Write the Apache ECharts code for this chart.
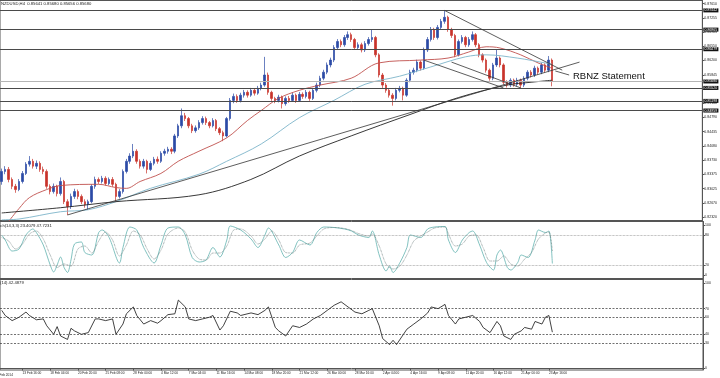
<!DOCTYPE html>
<html>
<head>
<meta charset="utf-8">
<script src="https://cdn.jsdelivr.net/npm/echarts@6/dist/echarts.min.js"></script>
<style>
  html, body { margin: 0; padding: 0; background: #fff; }
  #chart { width: 720px; height: 378px; }
</style>
</head>
<body>
<div id="chart"></div>
<script>
// NZDUSD H4, two bars per slot: [open, close, low, high]
var candles = [
  [0.8320,0.8345,0.8312,0.8352],[0.8345,0.8350,0.8338,0.8358],[0.8350,0.8325,0.8318,0.8356],[0.8325,0.8308,0.8301,0.8330],
  [0.8308,0.8300,0.8292,0.8314],[0.8300,0.8320,0.8296,0.8326],[0.8320,0.8340,0.8315,0.8346],[0.8340,0.8363,0.8336,0.8368],
  [0.8363,0.8370,0.8357,0.8383],[0.8370,0.8358,0.8352,0.8376],[0.8358,0.8365,0.8351,0.8372],[0.8365,0.8350,0.8344,0.8370],
  [0.8350,0.8345,0.8338,0.8357],[0.8345,0.8308,0.8302,0.8350],[0.8308,0.8295,0.8288,0.8313],[0.8295,0.8308,0.8290,0.8315],
  [0.8308,0.8290,0.8283,0.8312],[0.8290,0.8320,0.8285,0.8330],[0.8320,0.8270,0.8264,0.8324],[0.8270,0.8258,0.8237,0.8276],
  [0.8258,0.8283,0.8252,0.8290],[0.8283,0.8295,0.8277,0.8302],[0.8295,0.8283,0.8276,0.8300],[0.8283,0.8270,0.8264,0.8288],
  [0.8270,0.8263,0.8255,0.8276],[0.8263,0.8270,0.8250,0.8275],[0.8270,0.8308,0.8266,0.8313],[0.8308,0.8325,0.8302,0.8332],
  [0.8325,0.8320,0.8314,0.8330],[0.8320,0.8328,0.8315,0.8334],[0.8328,0.8315,0.8310,0.8333],[0.8315,0.8325,0.8311,0.8330],
  [0.8325,0.8313,0.8307,0.8331],[0.8313,0.8283,0.8270,0.8317],[0.8283,0.8295,0.8278,0.8301],[0.8295,0.8345,0.8290,0.8350],
  [0.8345,0.8370,0.8340,0.8376],[0.8370,0.8383,0.8364,0.8390],[0.8383,0.8395,0.8378,0.8413],[0.8395,0.8370,0.8364,0.8400],
  [0.8370,0.8358,0.8352,0.8375],[0.8358,0.8370,0.8352,0.8376],[0.8370,0.8350,0.8340,0.8374],[0.8350,0.8365,0.8346,0.8371],
  [0.8365,0.8375,0.8360,0.8381],[0.8375,0.8370,0.8364,0.8382],[0.8370,0.8390,0.8366,0.8395],[0.8390,0.8395,0.8384,0.8401],
  [0.8395,0.8400,0.8389,0.8406],[0.8400,0.8395,0.8388,0.8405],[0.8395,0.8433,0.8390,0.8438],[0.8433,0.8458,0.8428,0.8463],
  [0.8458,0.8483,0.8452,0.8501],[0.8483,0.8476,0.8470,0.8490],[0.8476,0.8458,0.8452,0.8480],[0.8458,0.8446,0.8440,0.8463],
  [0.8446,0.8453,0.8441,0.8459],[0.8453,0.8466,0.8448,0.8472],[0.8466,0.8476,0.8461,0.8482],[0.8476,0.8466,0.8460,0.8481],
  [0.8466,0.8458,0.8452,0.8470],[0.8458,0.8471,0.8454,0.8477],[0.8471,0.8451,0.8445,0.8475],[0.8451,0.8441,0.8435,0.8455],
  [0.8441,0.8433,0.8420,0.8446],[0.8433,0.8476,0.8429,0.8480],[0.8476,0.8521,0.8471,0.8527],[0.8521,0.8531,0.8514,0.8538],
  [0.8531,0.8521,0.8515,0.8536],[0.8521,0.8534,0.8516,0.8540],[0.8534,0.8541,0.8528,0.8547],[0.8541,0.8534,0.8528,0.8546],
  [0.8534,0.8546,0.8530,0.8552],[0.8546,0.8539,0.8533,0.8551],[0.8539,0.8551,0.8535,0.8557],[0.8551,0.8559,0.8546,0.8565],
  [0.8559,0.8584,0.8555,0.8629],[0.8584,0.8541,0.8535,0.8590],[0.8541,0.8526,0.8520,0.8545],[0.8526,0.8521,0.8514,0.8530],
  [0.8521,0.8529,0.8516,0.8535],[0.8529,0.8513,0.8501,0.8533],[0.8513,0.8526,0.8508,0.8531],[0.8526,0.8521,0.8515,0.8532],
  [0.8521,0.8534,0.8517,0.8540],[0.8534,0.8521,0.8515,0.8538],[0.8521,0.8536,0.8517,0.8542],[0.8536,0.8531,0.8525,0.8541],
  [0.8531,0.8541,0.8526,0.8547],[0.8541,0.8526,0.8520,0.8545],[0.8526,0.8546,0.8522,0.8552],[0.8546,0.8559,0.8541,0.8565],
  [0.8559,0.8576,0.8554,0.8582],[0.8576,0.8591,0.8571,0.8597],[0.8591,0.8609,0.8586,0.8615],[0.8609,0.8621,0.8603,0.8627],
  [0.8621,0.8652,0.8616,0.8658],[0.8652,0.8667,0.8647,0.8673],[0.8667,0.8659,0.8653,0.8672],[0.8659,0.8677,0.8654,0.8683],
  [0.8677,0.8684,0.8671,0.8692],[0.8684,0.8672,0.8666,0.8689],[0.8672,0.8652,0.8646,0.8676],[0.8652,0.8659,0.8647,0.8665],
  [0.8659,0.8646,0.8640,0.8664],[0.8646,0.8662,0.8641,0.8668],[0.8662,0.8672,0.8657,0.8678],[0.8672,0.8677,0.8666,0.8697],
  [0.8677,0.8634,0.8628,0.8681],[0.8634,0.8584,0.8578,0.8638],[0.8584,0.8559,0.8552,0.8589],[0.8559,0.8546,0.8540,0.8564],
  [0.8546,0.8534,0.8528,0.8551],[0.8534,0.8526,0.8508,0.8539],[0.8526,0.8546,0.8521,0.8552],[0.8546,0.8551,0.8541,0.8557],
  [0.8551,0.8534,0.8521,0.8555],[0.8534,0.8571,0.8530,0.8576],[0.8571,0.8591,0.8566,0.8597],[0.8591,0.8596,0.8585,0.8602],
  [0.8596,0.8616,0.8591,0.8622],[0.8616,0.8601,0.8595,0.8620],[0.8601,0.8646,0.8597,0.8652],[0.8646,0.8672,0.8641,0.8678],
  [0.8672,0.8697,0.8667,0.8703],[0.8697,0.8677,0.8671,0.8701],[0.8677,0.8702,0.8672,0.8708],[0.8702,0.8717,0.8697,0.8723],
  [0.8717,0.8727,0.8711,0.8744],[0.8727,0.8697,0.8691,0.8731],[0.8697,0.8682,0.8676,0.8701],[0.8682,0.8634,0.8628,0.8686],
  [0.8634,0.8667,0.8630,0.8672],[0.8667,0.8677,0.8662,0.8683],[0.8677,0.8659,0.8653,0.8681],[0.8659,0.8672,0.8654,0.8678],
  [0.8672,0.8684,0.8667,0.8692],[0.8684,0.8659,0.8653,0.8688],[0.8659,0.8634,0.8628,0.8663],[0.8634,0.8621,0.8615,0.8638],
  [0.8621,0.8596,0.8590,0.8625],[0.8596,0.8576,0.8570,0.8600],[0.8576,0.8609,0.8571,0.8614],[0.8609,0.8626,0.8604,0.8646],
  [0.8626,0.8609,0.8603,0.8630],[0.8609,0.8566,0.8560,0.8613],[0.8566,0.8559,0.8553,0.8571],[0.8559,0.8571,0.8554,0.8576],
  [0.8571,0.8561,0.8555,0.8575],[0.8561,0.8571,0.8556,0.8577],[0.8571,0.8559,0.8551,0.8575],[0.8559,0.8576,0.8554,0.8581],
  [0.8576,0.8591,0.8571,0.8596],[0.8591,0.8584,0.8578,0.8596],[0.8584,0.8601,0.8579,0.8607],[0.8601,0.8591,0.8585,0.8605],
  [0.8591,0.8609,0.8586,0.8614],[0.8609,0.8596,0.8590,0.8613],[0.8596,0.8621,0.8591,0.8631],[0.8621,0.8568,0.8556,0.8625]
];

// moving averages, [slot, price]
var maRed = [[2,0.8221],[5,0.8253],[8,0.8280],[13,0.8300],[17,0.8310],[28,0.8313],[33,0.8305],[36,0.8303],[40,0.8320],
  [46,0.8340],[51,0.8370],[57,0.8395],[65,0.8428],[71,0.8471],[75,0.8496],[80,0.8526],[86,0.8546],[92,0.8559],[101,0.8576],
  [109,0.8614],[121,0.8621],[129,0.8626],[135,0.8641],[140,0.8654],[144,0.8651],[150,0.8634],[155,0.8614],[159,0.8601]];
var maBlue = [[0,0.8225],[5,0.8227],[17,0.8245],[25,0.8250],[33,0.8270],[43,0.8303],[57,0.8338],[65,0.8370],[75,0.8413],
  [86,0.8478],[96,0.8521],[105,0.8561],[115,0.8581],[124,0.8604],[134,0.8629],[140,0.8634],[149,0.8626],[157,0.8614],[159,0.8611]];
var maBlack = [[0,0.8242],[17,0.8255],[33,0.8270],[57,0.8287],[72,0.8325],[86,0.8383],[101,0.8433],[118,0.8486],
  [132,0.8528],[146,0.8559],[153,0.8566],[159,0.8571]];

// drawn trendlines: [[slot, price], [slot, price]]
var trendLines = [
  [[19,0.8237],[167,0.8616]],
  [[128,0.8744],[162,0.8596]],
  [[122,0.8621],[145,0.8552]],
  [[130,0.8616],[150,0.8552]]
];
var noteLine = [[160,0.8594],[164,0.8584]];
var noteText = 'RBNZ Statement';

var levelLines = [0.87442, 0.86965, 0.86479, 0.85520, 0.85198, 0.84959];
var bidPrice = 0.85680;
var priceTicks = [0.82320,0.82670,0.83025,0.83375,0.83730,0.84080,0.84435,0.84790,0.85140,0.85495,
  0.85845,0.86200,0.86550,0.86905,0.87255,0.87610];

var stochK = [[0,80],[1,70],[3,48],[5,52],[7,80],[9,92],[10,85],[12,60],[14,20],[15,6],[16,20],[17,36],[18,15],[19,5],
  [20,30],[21,62],[23,66],[24,45],[26,40],[28,85],[29,90],[31,75],[34,24],[35,55],[37,96],[39,90],[41,55],[44,24],[46,60],
  [48,94],[51,96],[53,80],[55,35],[57,26],[59,30],[61,55],[63,36],[65,70],[66,98],[69,90],[72,72],[74,55],[76,80],[77,94],
  [80,60],[82,35],[84,45],[86,70],[89,60],[91,85],[93,96],[96,95],[99,92],[101,88],[103,80],[106,75],[107,88],[109,40],
  [111,8],[112,18],[113,5],[115,25],[117,55],[118,80],[121,75],[123,92],[125,96],[128,97],[129,70],[131,45],[133,70],
  [135,85],[136,88],[138,60],[140,25],[142,10],[143,40],[144,50],[146,15],[147,10],[149,25],[150,40],[152,35],[154,70],
  [155,90],[157,85],[158,88],[159,23]];
var stochD = [[0,75],[2,68],[4,52],[6,62],[8,82],[10,88],[12,72],[14,40],[16,15],[18,22],[20,18],[22,52],[24,58],[26,44],
  [28,68],[30,86],[32,70],[34,38],[36,60],[38,88],[40,80],[42,52],[44,32],[46,50],[48,82],[51,94],[53,86],[55,50],[57,32],
  [59,30],[61,44],[63,44],[65,58],[67,90],[69,92],[72,78],[74,62],[76,72],[78,88],[80,70],[82,45],[84,44],[86,60],[89,64],
  [91,78],[93,92],[96,95],[99,93],[101,89],[103,83],[106,78],[107,82],[109,58],[111,22],[113,12],[115,18],[117,40],[119,68],
  [121,78],[123,86],[125,94],[128,96],[129,82],[131,58],[133,62],[135,78],[137,80],[139,55],[141,28],[143,28],[145,38],
  [147,22],[149,18],[151,32],[153,45],[155,72],[157,84],[158,86],[159,48]];
var stochLevels = [80, 20];
var stochTicks = [100, 80, 20, 0];

var rsi = [[0,68],[1,62],[3,56],[5,60],[7,66],[8,62],[10,57],[12,58],[13,50],[15,40],[16,49],[17,38],[19,34],[20,47],
  [21,44],[23,40],[25,42],[27,58],[28,58],[30,56],[32,58],[33,40],[35,52],[36,64],[38,72],[39,62],[41,52],[43,56],[45,53],
  [46,56],[48,63],[50,64],[51,80],[53,72],[54,58],[56,56],[58,58],[60,60],[61,62],[63,45],[64,50],[66,67],[68,65],[69,62],
  [72,65],[74,63],[76,68],[77,72],[79,48],[80,44],[82,38],[84,50],[86,48],[88,52],[90,58],[92,62],[94,68],[96,74],[98,78],
  [100,72],[102,66],[104,64],[106,68],[107,70],[109,50],[110,35],[112,28],[113,33],[114,28],[116,40],[117,46],[119,52],
  [121,58],[123,65],[124,72],[126,70],[128,75],[129,62],[131,52],[132,58],[134,60],[136,62],[138,55],[139,48],[141,42],
  [143,55],[144,50],[145,38],[147,34],[148,40],[150,44],[151,48],[153,46],[154,55],[156,52],[157,60],[158,62],[159,42.5]];
var rsiLevels = [70, 60, 40, 30];
var rsiTicks = [100, 70, 60, 40, 30, 0];

var xTickIdx = [6,14,22,30,38,46,54,62,70,78,86,94,102,110,118,126,134,142,150,158];
var xTickText = ['13 Feb 16:00','18 Feb 04:00','20 Feb 20:00','25 Feb 08:00','28 Feb 00:00','4 Mar 12:00',
  '7 Mar 04:00','11 Mar 16:00','14 Mar 08:00','18 Mar 20:00','21 Mar 12:00','26 Mar 00:00','28 Mar 16:00',
  '2 Apr 04:00','4 Apr 16:00','9 Apr 08:00','11 Apr 20:00','16 Apr 12:00','21 Apr 00:00','23 Apr 16:00'];

var slotCount = 203;
var font = "'Liberation Sans', Arial, sans-serif";

var categories = [];
for (var i = 0; i < slotCount; i++) categories.push(String(i));
var tickText = {};
xTickIdx.forEach(function (idx, k) { tickText[idx] = xTickText[k]; });
function isTick(index) { return tickText.hasOwnProperty(index); }

function pane(top, height) {
  return { left: 0, right: 17, top: top, height: height, show: true, borderColor: '#555', borderWidth: 1 };
}
function xAx(gridIndex, labels) {
  return {
    type: 'category', gridIndex: gridIndex, data: categories, boundaryGap: true,
    axisLine: { show: labels, lineStyle: { color: '#555' } },
    axisTick: { show: labels, alignWithLabel: true, length: 2, interval: function (i) { return isTick(i); },
      lineStyle: { color: '#555' } },
    axisLabel: { show: labels, interval: function (i) { return isTick(i); }, align: 'left', margin: 2,
      fontSize: 3.2, color: '#222', fontFamily: font,
      formatter: function (v, i) { return tickText[i] || ''; } },
    splitLine: { show: false }
  };
}
function yAx(gridIndex, min, max, ticks, fmt) {
  return {
    type: 'value', gridIndex: gridIndex, position: 'right', min: min, max: max, scale: true,
    axisLine: { show: true, lineStyle: { color: '#555' } },
    axisTick: { show: true, length: 2, customValues: ticks, lineStyle: { color: '#555' } },
    axisLabel: { customValues: ticks, margin: 2, fontSize: 3.5, color: '#222', fontFamily: font, formatter: fmt },
    splitLine: { show: false }
  };
}

var levelData = levelLines.map(function (v) { return { yAxis: v }; });
levelData.push({ yAxis: bidPrice, lineStyle: { color: '#b5b5b5', width: 1, type: 'solid' } });

var trendData = trendLines.map(function (t) {
  return [{ coord: t[0] }, { coord: t[1] }];
});
trendData.push([
  { coord: noteLine[0], label: { show: true, position: 'end', distance: 4, formatter: noteText,
      fontSize: 9.5, color: '#111', fontFamily: font } },
  { coord: noteLine[1] }
]);

var chart = echarts.init(document.getElementById('chart'));
chart.setOption({
  animation: false,
  backgroundColor: '#fff',
  grid: [pane(0.5, 220), pane(221.5, 57), pane(279.5, 90.5)],
  xAxis: [xAx(0, false), xAx(1, false), xAx(2, true)],
  yAxis: [
    yAx(0, 0.82233, 0.87687, priceTicks, function (v) { return v.toFixed(5); }),
    yAx(1, -7, 107, stochTicks, function (v) { return String(v); }),
    yAx(2, -1.75, 104.1, rsiTicks, function (v) { return String(v); })
  ],
  graphic: [
    { type: 'text', left: 1, top: 1.5, style: { text: 'NZDUSD,H4  0.85641 0.85680 0.85656 0.85680',
        fontSize: 4.2, fill: '#222', fontFamily: font } },
    { type: 'text', left: -6, top: 223.5, style: { text: 'Stoch(14,3,3) 23.4079 47.7231',
        fontSize: 4.2, fill: '#222', fontFamily: font } },
    { type: 'text', left: -7, top: 281, style: { text: 'RSI(14) 42.4879',
        fontSize: 4.2, fill: '#222', fontFamily: font } },
    { type: 'text', left: -5, top: 373.5, style: { text: '12 Feb 2014',
        fontSize: 3.2, fill: '#222', fontFamily: font } }
  ],
  series: [
    {
      name: 'NZDUSD', type: 'candlestick', xAxisIndex: 0, yAxisIndex: 0, data: candles,
      barWidth: 2, z: 3,
      itemStyle: { color: '#2b4aa6', color0: '#c8332b', borderColor: '#2b4aa6', borderColor0: '#c8332b', borderWidth: 0.7 }
    },
    { name: 'MA red', type: 'line', xAxisIndex: 0, yAxisIndex: 0, data: maRed, smooth: 0.35, symbol: 'none',
      lineStyle: { color: '#c0504d', width: 0.9 }, z: 4 },
    { name: 'MA blue', type: 'line', xAxisIndex: 0, yAxisIndex: 0, data: maBlue, smooth: 0.35, symbol: 'none',
      lineStyle: { color: '#7db4c9', width: 0.9 }, z: 4,
      markLine: {
        silent: true, symbol: ['none', 'none'], precision: 5,
        lineStyle: { color: '#4a4a4a', width: 1, type: 'solid' },
        label: { show: true, position: 'end', distance: 1, formatter: function (p) { return Number(p.value).toFixed(5); },
          backgroundColor: '#111', color: '#fff', fontSize: 3.5, lineHeight: 4, padding: [0, 1.2], fontFamily: font },
        data: levelData
      } },
    { name: 'MA black', type: 'line', xAxisIndex: 0, yAxisIndex: 0, data: maBlack, smooth: 0.35, symbol: 'none',
      lineStyle: { color: '#222', width: 0.9 }, z: 4,
      markLine: { silent: true, symbol: ['none', 'none'], precision: 5, label: { show: false },
        lineStyle: { color: '#333', width: 0.8, type: 'solid' }, data: trendData } },
    { name: '%K', type: 'line', xAxisIndex: 1, yAxisIndex: 1, data: stochK, smooth: 0.3, symbol: 'none',
      lineStyle: { color: '#62b3b0', width: 0.8 },
      markLine: { silent: true, symbol: ['none', 'none'], label: { show: false },
        lineStyle: { color: '#8a8a8a', width: 0.7, type: 'dotted' },
        data: stochLevels.map(function (v) { return { yAxis: v }; }) } },
    { name: '%D', type: 'line', xAxisIndex: 1, yAxisIndex: 1, data: stochD, smooth: 0.3, symbol: 'none',
      lineStyle: { color: '#5c6f6f', width: 0.7, type: 'dotted' } },
    { name: 'RSI', type: 'line', xAxisIndex: 2, yAxisIndex: 2, data: rsi, smooth: false, symbol: 'none',
      lineStyle: { color: '#111', width: 0.8 },
      markLine: { silent: true, symbol: ['none', 'none'], label: { show: false },
        lineStyle: { color: '#333', width: 0.7, type: [2, 1.5] },
        data: rsiLevels.map(function (v) { return { yAxis: v }; }) } }
  ]
});
</script>
</body>
</html>
